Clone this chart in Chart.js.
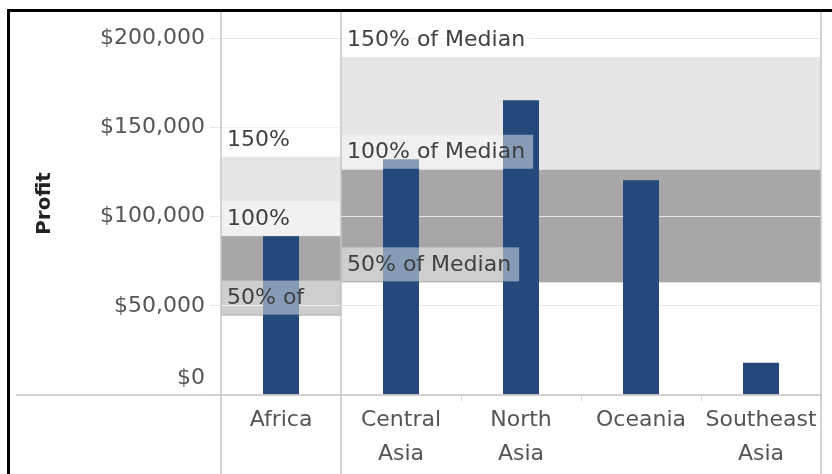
<!DOCTYPE html>
<html lang="en">

<head>
    <meta charset="UTF-8" />
    <title>Profit by Region</title>
    <script src="https://cdn.jsdelivr.net/npm/chart.js"></script>
    <style>
        html, body { margin: 0; padding: 0; background: #fff; }
        #wrap { width: 832px; height: 474px; }
    </style>
</head>

<body>
    <div id="wrap"><canvas id="profitChart"></canvas></div>

    <script>
        // data
        const categories = ['Africa', 'Central Asia', 'North Asia', 'Oceania', 'Southeast Asia'];
        const categoryLabels = ['Africa', ['Central', 'Asia'], ['North', 'Asia'], 'Oceania', ['Southeast', 'Asia']];
        const regions = ['Africa', 'Asia', 'Asia', 'Asia', 'Asia'];
        const profit = [89100, 132300, 165400, 120500, 18100];
        const yTicks = [0, 50000, 100000, 150000, 200000];
        const bandPcts = [1.5, 1.0, 0.5];
        const bandLabels = {
            Africa: ['150%', '100%', '50% of'],
            Asia: ['150% of Median', '100% of Median', '50% of Median']
        };

        const FONT = "'DejaVu Sans', sans-serif";

        function median(arr) {
            const s = arr.slice().sort((a, b) => a - b);
            const m = Math.floor(s.length / 2);
            return s.length % 2 ? s[m] : (s[m - 1] + s[m]) / 2;
        }

        // pane extents + median for each region
        function panes(chart) {
            const x = chart.scales.x;
            const half = (x.getPixelForValue(1) - x.getPixelForValue(0)) / 2;
            const out = [];
            [...new Set(regions)].forEach(r => {
                const idx = regions.map((g, i) => g === r ? i : -1).filter(i => i >= 0);
                out.push({
                    name: r,
                    left: x.getPixelForValue(idx[0]) - half,
                    right: x.getPixelForValue(idx[idx.length - 1]) + half,
                    med: median(idx.map(i => profit[i]))
                });
            });
            return out;
        }

        const refBands = {
            id: 'refBands',
            beforeDraw(chart) {
                const ctx = chart.ctx, y = chart.scales.y;
                panes(chart).forEach(p => {
                    const y150 = y.getPixelForValue(p.med * 1.5);
                    const y100 = y.getPixelForValue(p.med);
                    const y50 = y.getPixelForValue(p.med * 0.5);
                    ctx.save();
                    ctx.fillStyle = '#e6e6e6';
                    ctx.fillRect(p.left, y150, p.right - p.left, y100 - y150);
                    ctx.fillStyle = '#a7a7a7';
                    ctx.fillRect(p.left, y100, p.right - p.left, y50 - y100);
                    ctx.restore();
                });
            },
            afterDatasetsDraw(chart) {
                const ctx = chart.ctx, y = chart.scales.y;
                ctx.save();
                ctx.font = '22px ' + FONT;
                ctx.textBaseline = 'middle';
                panes(chart).forEach(p => {
                    const w = p.right - p.left;
                    bandPcts.forEach((pct, i) => {
                        const text = bandLabels[p.name][i];
                        const full = (pct * 100) + '% of Median';
                        const lineY = y.getPixelForValue(p.med * pct);
                        const boxW = text !== full ? w - 2 : Math.min(w - 2, ctx.measureText(text).width + 13);
                        const top = lineY - 35;
                        ctx.fillStyle = 'rgba(255,255,255,0.45)';
                        ctx.fillRect(p.left + 1, top, boxW, 34);
                        ctx.fillStyle = '#404040';
                        ctx.fillText(text, p.left + 6, top + 18);
                    });
                });
                ctx.restore();
            },
            afterDraw(chart) {
                const ctx = chart.ctx, y = chart.scales.y, area = chart.chartArea;
                const ps = panes(chart);
                ctx.save();
                // zero line
                ctx.strokeStyle = '#c6c6c6';
                ctx.lineWidth = 1.5;
                const y0 = y.getPixelForValue(0);
                ctx.beginPath();
                ctx.moveTo(16, y0);
                ctx.lineTo(area.right + 1, y0);
                ctx.stroke();
                // pane dividers
                const xs = ps.map(p => p.left).concat([ps[ps.length - 1].right]);
                xs.forEach(px => {
                    ctx.beginPath();
                    ctx.moveTo(px, area.top);
                    ctx.lineTo(px, chart.height);
                    ctx.stroke();
                });
                // black frame top / left
                ctx.fillStyle = '#000';
                ctx.fillRect(7, 9, chart.width - 7, 3);
                ctx.fillRect(7, 9, 3, chart.height - 9);
                ctx.restore();
            }
        };

        const ctx = document.getElementById('profitChart').getContext('2d');

        const chart = new Chart(ctx, {
            type: 'bar',
            data: {
                labels: categoryLabels,
                datasets: [{
                    label: 'Profit',
                    data: profit,
                    backgroundColor: '#24497a',
                    barPercentage: 0.3,
                    categoryPercentage: 1.0
                }]
            },
            options: {
                responsive: true,
                maintainAspectRatio: false,
                animation: false,
                layout: { padding: { top: 12, right: 11, bottom: 0, left: 0 } },
                plugins: {
                    legend: { display: false },
                    tooltip: { enabled: false }
                },
                scales: {
                    x: {
                        afterFit: s => { s.height = 79; s.paddingLeft = 0; s.paddingRight = 0; },
                        border: { display: false },
                        grid: {
                            drawOnChartArea: false,
                            drawTicks: true,
                            tickLength: 6,
                            color: '#d6d6d6'
                        },
                        ticks: {
                            autoSkip: false,
                            maxRotation: 0,
                            padding: 2,
                            color: '#555',
                            font: { family: FONT, size: 22, lineHeight: 1.55 }
                        }
                    },
                    y: {
                        min: 0,
                        max: 214900,
                        afterFit: s => { s.width = 221; s.paddingTop = 0; s.paddingBottom = 0; },
                        afterBuildTicks: s => { s.ticks = yTicks.map(v => ({ value: v })); },
                        border: { display: false },
                        grid: {
                            color: '#e6e6e6',
                            tickLength: 11,
                            tickColor: '#e6e6e6'
                        },
                        ticks: {
                            padding: 5,
                            color: '#555',
                            font: { family: FONT, size: 22, lineHeight: 1.5 },
                            callback: v => v === 0 ? ['$0', ''] : '$' + v.toLocaleString('en-US')
                        },
                        title: {
                            display: true,
                            text: 'Profit',
                            color: '#222',
                            padding: { top: 33, bottom: 0 },
                            font: { family: FONT, size: 20, weight: 'bold' }
                        }
                    }
                }
            },
            plugins: [refBands]
        });
    </script>
</body>

</html>
